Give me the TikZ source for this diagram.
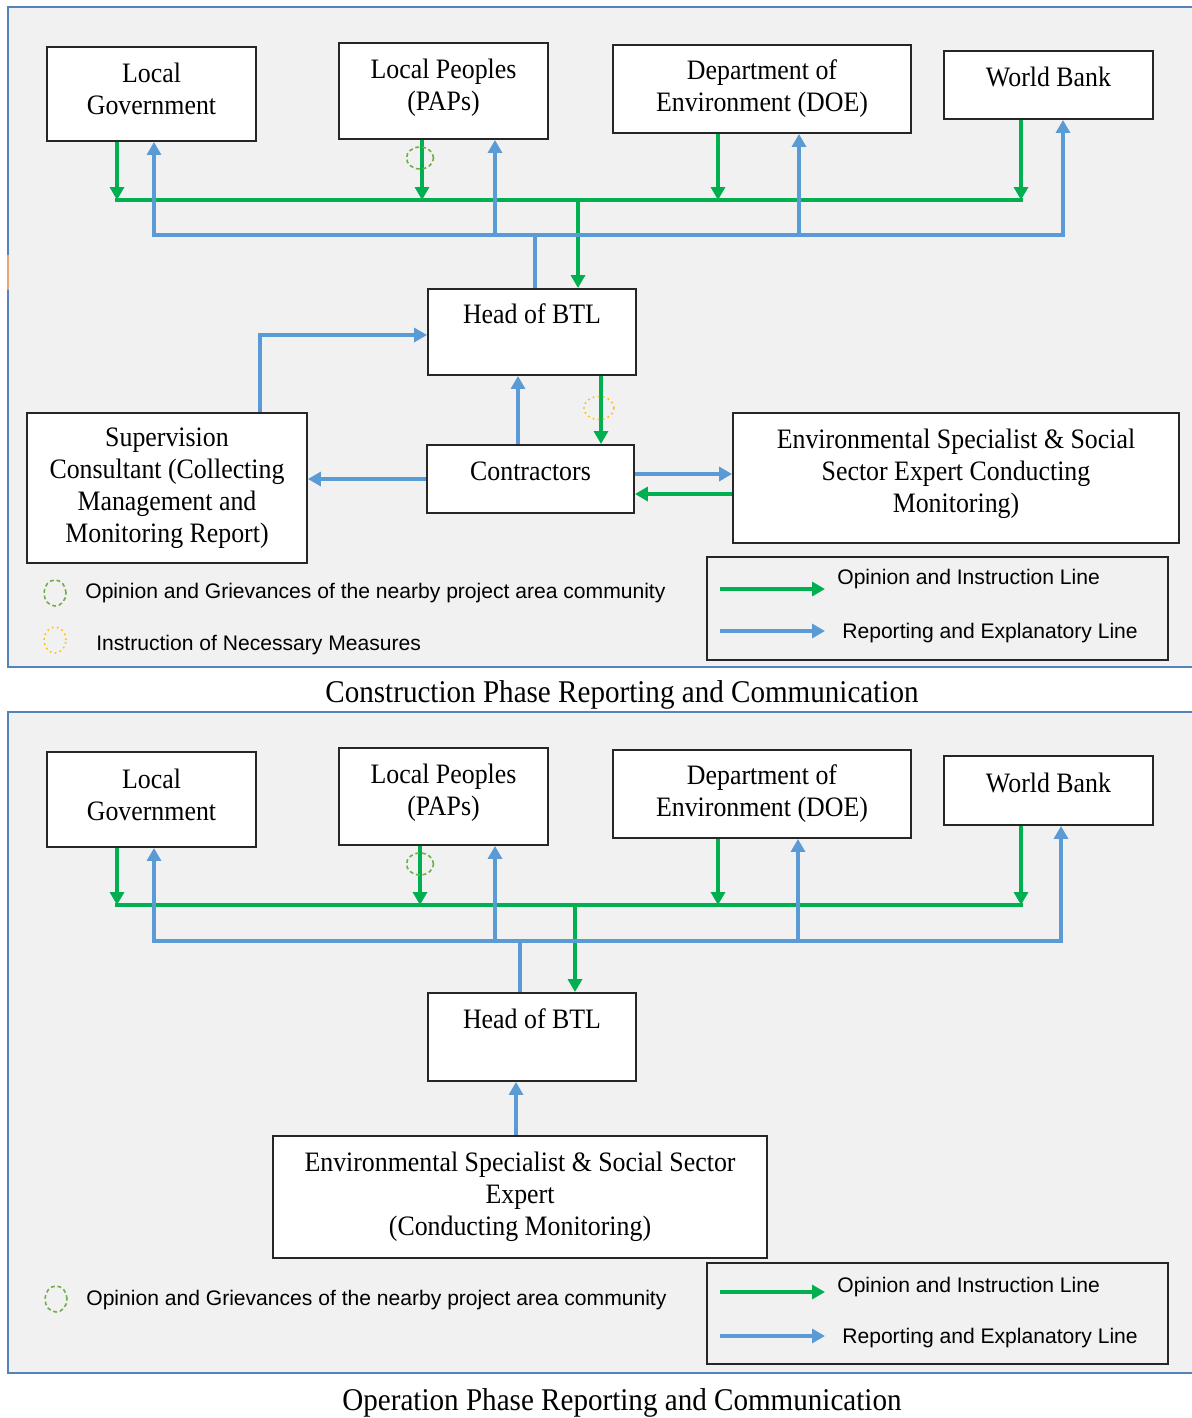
\documentclass[tikz,border=0pt]{standalone}
\usepackage{fontspec}
\setmainfont{Liberation Serif}[FakeStretch=0.92]
\newfontfamily\legfont{Liberation Sans}
\usepackage{xcolor}
\usetikzlibrary{arrows.meta,calc}
\definecolor{FlowGreen}{RGB}{0,176,80}
\definecolor{FlowBlue}{RGB}{91,155,213}
\definecolor{PanelEdge}{RGB}{84,130,186}
\definecolor{PanelFill}{RGB}{241,241,241}
\definecolor{RingGreen}{RGB}{112,173,71}
\definecolor{RingYellow}{RGB}{255,192,0}
\definecolor{EdgeOrange}{RGB}{226,166,120}
\tikzstyle{pbox}    = [rectangle, draw=black!85, line width=1.1pt, fill=white,
                       align=center, inner sep=2pt,
                       font=\fontsize{16}{18.2}\selectfont]
\tikzstyle{legbox}  = [rectangle, draw=black!85, line width=1.1pt]
\tikzstyle{Gline}   = [draw=FlowGreen, line width=2pt]
\tikzstyle{Bline}   = [draw=FlowBlue,  line width=2pt]
\tikzstyle{grvring} = [draw=RingGreen,  line width=0.9pt, dash pattern=on 2.2pt off 1.6pt]
\tikzstyle{insring} = [draw=RingYellow, line width=0.9pt, dotted]
\tikzstyle{legtxt}  = [anchor=west, inner sep=0pt, font=\legfont\fontsize{12}{14}\selectfont]
\tikzstyle{captxt}  = [inner sep=0pt, font=\fontsize{18}{22}\selectfont]
\tikzstyle{panel}   = [draw=PanelEdge, line width=1.2pt, fill=PanelFill]
\begin{document}
\begin{tikzpicture}[x=0.02cm, y=-0.02cm, >={Triangle[length=0.26cm,width=0.28cm]}]
  \useasboundingbox (0,0) rectangle (1192,1418);
  \clip (0,0) rectangle (1192,1418);

  % construction phase
  \draw[panel] (8,7) rectangle (1215,667);
  \draw[EdgeOrange, line width=1.2pt] (8,255) -- (8,290);

  \node[pbox, minimum width=4.18cm, minimum height=1.88cm, text depth=5.7pt] (lg1)  at (151.5,94)  {Local\\Government};
  \node[pbox, minimum width=4.18cm, minimum height=1.92cm, text depth=7pt]   (lp1)  at (443.5,91)  {Local Peoples\\(PAPs)};
  \node[pbox, minimum width=5.96cm, minimum height=1.76cm] (doe1) at (762,89)    {Department of\\Environment (DOE)};
  \node[pbox, minimum width=4.18cm, minimum height=1.36cm, text depth=9pt]  (wb1)  at (1048.5,85) {World Bank};
  \node[pbox, minimum width=4.16cm, minimum height=1.72cm, text depth=21pt] (btl1) at (532,332)   {Head of BTL};
  \node[pbox, minimum width=5.6cm,  minimum height=3.0cm]  (sc1)  at (167,488)   {Supervision\\Consultant (Collecting\\Management and\\Monitoring Report)};
  \node[pbox, minimum width=4.14cm, minimum height=1.36cm, text depth=9pt]  (con1) at (530.5,479) {Contractors};
  \node[pbox, minimum width=8.92cm, minimum height=2.6cm, text depth=8pt]   (es1)  at (956,478)   {Environmental Specialist \& Social\\Sector Expert Conducting\\Monitoring)};

  \coordinate (ga1) at (117,200);  \coordinate (ga2) at (422,200);
  \coordinate (ga3) at (718,200);  \coordinate (ga4) at (1021,200);
  \coordinate (ga5) at (578,200);
  \coordinate (ba1) at (154,235);  \coordinate (ba2) at (495,235);
  \coordinate (ba3) at (799,235);  \coordinate (ba4) at (1063,235);
  \coordinate (ba5) at (535,235);

  \draw[Gline, line cap=rect] (ga1) -- (ga4);
  \draw[Gline,->] (lg1.south -| ga1)  -- (ga1);
  \draw[Gline,->] (lp1.south -| ga2)  -- (ga2);
  \draw[Gline,->] (doe1.south -| ga3) -- (ga3);
  \draw[Gline,->] (wb1.south -| ga4)  -- (ga4);
  \draw[Gline,->] (ga5) -- (ga5 |- btl1.north);

  \draw[Bline, line cap=rect] (ba1) -- (ba4);
  \draw[Bline,->] (ba1) -- (ba1 |- lg1.south);
  \draw[Bline,->] (ba2) -- (ba2 |- lp1.south);
  \draw[Bline,->] (ba3) -- (ba3 |- doe1.south);
  \draw[Bline,->] (ba4) -- (ba4 |- wb1.south);
  \draw[Bline] (ba5 |- btl1.north) -- (ba5);

  \draw[Bline,->] ([xshift=1.86cm]sc1.north) |- ([yshift=-0.06cm]btl1.west);
  \draw[Bline,->] ([xshift=-0.25cm]con1.north) -- ([xshift=-0.25cm]con1.north |- btl1.south);
  \draw[Gline,->] ([xshift=1.38cm]btl1.south) -- ([xshift=1.38cm]btl1.south |- con1.north);
  \draw[Bline,->] (con1.west) -- (con1.west -| sc1.east);
  \draw[Bline,->] ([yshift=0.1cm]con1.east) -- ([yshift=0.1cm]con1.east -| es1.west);
  \draw[Gline,->] ([yshift=-0.3cm]con1.east -| es1.west) -- ([yshift=-0.3cm]con1.east);

  \draw[grvring] (420,158) ellipse [x radius=0.27cm, y radius=0.22cm];
  \draw[insring] (599,408) ellipse [x radius=0.3cm, y radius=0.23cm];

  % construction legend
  \draw[grvring] (55,593) ellipse [x radius=0.22cm, y radius=0.26cm];
  \node[legtxt] (grv1) at (85,593) {Opinion and Grievances of the nearby project area community};
  \draw[insring] (55,640) ellipse [x radius=0.22cm, y radius=0.26cm];
  \node[legtxt] (ins1) at (96,645) {Instruction of Necessary Measures};
  \node[legbox, minimum width=9.22cm, minimum height=2.06cm] (key1) at (937.5,608.5) {};
  \coordinate (kg1a) at (720,589);  \coordinate (kg1b) at (825,589);
  \coordinate (kb1a) at (720,631);  \coordinate (kb1b) at (825,631);
  \draw[Gline,->] (kg1a) -- (kg1b);
  \draw[Bline,->] (kb1a) -- (kb1b);
  \node[legtxt] (kgt1) at (837,579) {Opinion and Instruction Line};
  \node[legtxt] (kbt1) at (842,633) {Reporting and Explanatory Line};

  \node[captxt] (cap1) at (622,695) {Construction Phase Reporting and Communication};

  % operation phase
  \draw[panel] (8,712) rectangle (1215,1373);

  \node[pbox, minimum width=4.18cm, minimum height=1.9cm,  text depth=5.7pt] (lg2)  at (151.5,799.5) {Local\\Government};
  \node[pbox, minimum width=4.18cm, minimum height=1.94cm, text depth=8pt]   (lp2)  at (443.5,796.5) {Local Peoples\\(PAPs)};
  \node[pbox, minimum width=5.96cm, minimum height=1.76cm] (doe2) at (762,794)     {Department of\\Environment (DOE)};
  \node[pbox, minimum width=4.18cm, minimum height=1.38cm, text depth=9pt]  (wb2)  at (1048.5,790.5) {World Bank};
  \node[pbox, minimum width=4.16cm, minimum height=1.76cm, text depth=21pt] (btl2) at (532,1037)    {Head of BTL};
  \node[pbox, minimum width=9.88cm, minimum height=2.44cm] (es2)  at (520,1197)    {Environmental Specialist \& Social Sector\\Expert\\(Conducting Monitoring)};

  \coordinate (gb1) at (117,905);  \coordinate (gb2) at (420,905);
  \coordinate (gb3) at (718,905);  \coordinate (gb4) at (1021,905);
  \coordinate (gb5) at (575,905);
  \coordinate (bb1) at (154,941);  \coordinate (bb2) at (495,941);
  \coordinate (bb3) at (798,941);  \coordinate (bb4) at (1061,941);
  \coordinate (bb5) at (520,941);

  \draw[Gline, line cap=rect] (gb1) -- (gb4);
  \draw[Gline,->] (lg2.south -| gb1)  -- (gb1);
  \draw[Gline,->] (lp2.south -| gb2)  -- (gb2);
  \draw[Gline,->] (doe2.south -| gb3) -- (gb3);
  \draw[Gline,->] (wb2.south -| gb4)  -- (gb4);
  \draw[Gline,->] (gb5) -- (gb5 |- btl2.north);

  \draw[Bline, line cap=rect] (bb1) -- (bb4);
  \draw[Bline,->] (bb1) -- (bb1 |- lg2.south);
  \draw[Bline,->] (bb2) -- (bb2 |- lp2.south);
  \draw[Bline,->] (bb3) -- (bb3 |- doe2.south);
  \draw[Bline,->] (bb4) -- (bb4 |- wb2.south);
  \draw[Bline] (bb5 |- btl2.north) -- (bb5);

  \draw[Bline,->] ([xshift=-0.08cm]es2.north) -- ([xshift=-0.08cm]es2.north |- btl2.south);

  \draw[grvring] (420,864) ellipse [x radius=0.27cm, y radius=0.22cm];

  % operation legend
  \draw[grvring] (56,1299) ellipse [x radius=0.22cm, y radius=0.26cm];
  \node[legtxt] (grv2) at (86,1300) {Opinion and Grievances of the nearby project area community};
  \node[legbox, minimum width=9.22cm, minimum height=2.02cm] (key2) at (937.5,1313.5) {};
  \coordinate (kg2a) at (720,1292);  \coordinate (kg2b) at (825,1292);
  \coordinate (kb2a) at (720,1336);  \coordinate (kb2b) at (825,1336);
  \draw[Gline,->] (kg2a) -- (kg2b);
  \draw[Bline,->] (kb2a) -- (kb2b);
  \node[legtxt] (kgt2) at (837,1287) {Opinion and Instruction Line};
  \node[legtxt] (kbt2) at (842,1338) {Reporting and Explanatory Line};

  \node[captxt] (cap2) at (622,1403) {Operation Phase Reporting and Communication};
\end{tikzpicture}
\end{document}
